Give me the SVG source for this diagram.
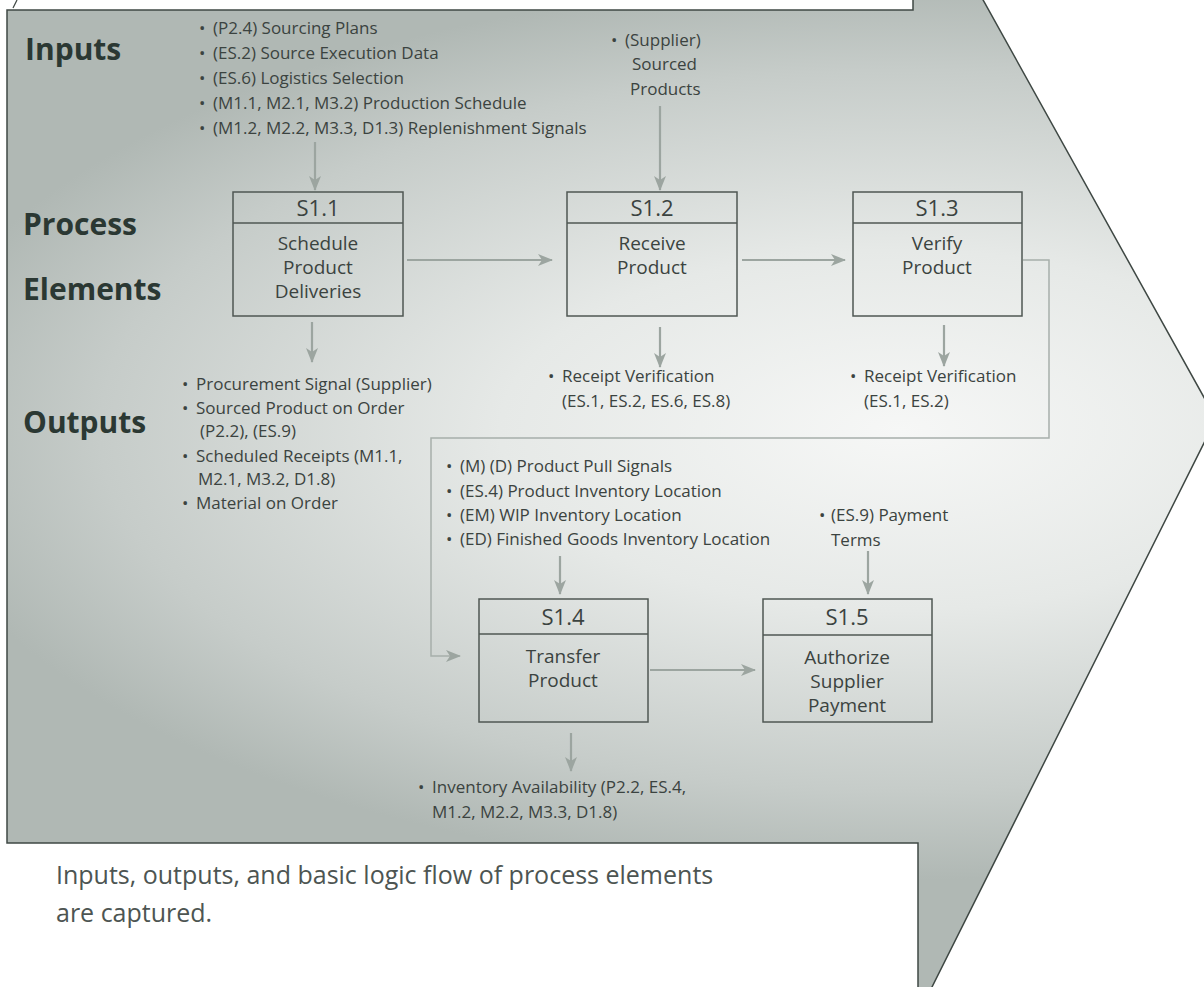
<svg xmlns="http://www.w3.org/2000/svg" width="1204" height="987" viewBox="0 0 1204 987">
  <style>
    .lbl { font-family: "Open Sans", "Liberation Sans", sans-serif; font-weight: 700; font-size: 30px; fill: #2b3833; }
    .txt { font-family: "Open Sans", "Liberation Sans", sans-serif; font-size: 17px; fill: #3b4340; }
    .hd { font-family: "Open Sans", "Liberation Sans", sans-serif; font-size: 22px; fill: #3b4340; text-anchor: middle; }
    .bt { font-family: "Open Sans", "Liberation Sans", sans-serif; font-size: 19px; fill: #3b4340; text-anchor: middle; }
    .cap { font-family: "Open Sans", "Liberation Sans", sans-serif; font-size: 25px; fill: #4d5552; }
    .box { fill: none; stroke: #4f5753; stroke-width: 1.5; }
    .arr { fill: none; stroke: #9ca5a0; stroke-width: 2.2; marker-end: url(#ah); }
    .loop { fill: none; stroke: #a7afab; stroke-width: 1.5; marker-end: url(#ah); }
  </style>
  <defs>
    <radialGradient id="bg" gradientUnits="userSpaceOnUse" cx="900" cy="430" r="1000"
        gradientTransform="translate(900 430) scale(1 0.45) translate(-900 -430)">
      <stop offset="0" stop-color="#f6f7f6"/>
      <stop offset="0.4" stop-color="#e6e9e7"/>
      <stop offset="0.8" stop-color="#c6ccc9"/>
      <stop offset="1" stop-color="#b0b8b4"/>
    </radialGradient>
    <marker id="ah" markerWidth="16" markerHeight="12" refX="14" refY="6" orient="auto" markerUnits="userSpaceOnUse">
      <path d="M0,0 L15,6 L0,12 L4,6 Z" fill="#9ca5a0"/>
    </marker>
  </defs>

  <rect width="1204" height="987" fill="#ffffff"/>

  <!-- chevron background -->
  <polygon points="7,10 913,10 913,-2 982,-2 1216,419 930,991 918,991 918,843 7,843"
           fill="url(#bg)" stroke="#3f4844" stroke-width="1.5"/>
  <line x1="13" y1="8" x2="17" y2="0" stroke="#3f4844" stroke-width="1.2"/>

  <!-- row labels -->
  <g id="row-labels">
    <text class="lbl" x="25" y="60">Inputs</text>
    <text class="lbl" x="23" y="235">Process</text>
    <text class="lbl" x="23" y="300">Elements</text>
    <text class="lbl" x="23" y="433">Outputs</text>
  </g>

  <!-- connectors -->
  <g id="connectors">
    <line class="arr" x1="315" y1="142" x2="315" y2="190"/>
    <line class="arr" x1="660" y1="106" x2="660" y2="190"/>
    <line class="arr" x1="407" y1="260" x2="552" y2="260"/>
    <line class="arr" x1="742" y1="260" x2="845" y2="260"/>
    <line class="arr" x1="312" y1="322" x2="312" y2="362"/>
    <line class="arr" x1="660" y1="327" x2="660" y2="367"/>
    <line class="arr" x1="944" y1="325" x2="944" y2="366"/>
    <path class="loop" d="M1023,260 H1049 V438 H431 V656 H460"/>
    <line class="arr" x1="560" y1="556" x2="560" y2="594"/>
    <line class="arr" x1="868" y1="551" x2="868" y2="594"/>
    <line class="arr" x1="650" y1="670" x2="755" y2="670"/>
    <line class="arr" x1="571" y1="733" x2="571" y2="771"/>
  </g>

  <!-- inputs -->
  <g id="inputs-s11">
    <text class="txt" x="199" y="34">•</text><text class="txt" x="213" y="34">(P2.4) Sourcing Plans</text>
    <text class="txt" x="199" y="59">•</text><text class="txt" x="213" y="59">(ES.2) Source Execution Data</text>
    <text class="txt" x="199" y="84">•</text><text class="txt" x="213" y="84">(ES.6) Logistics Selection</text>
    <text class="txt" x="199" y="109">•</text><text class="txt" x="213" y="109">(M1.1, M2.1, M3.2) Production Schedule</text>
    <text class="txt" x="199" y="134">•</text><text class="txt" x="213" y="134">(M1.2, M2.2, M3.3, D1.3) Replenishment Signals</text>
  </g>
  <g id="inputs-s12">
    <text class="txt" x="611" y="46">•</text><text class="txt" x="625" y="46">(Supplier)</text>
    <text class="txt" x="632" y="70">Sourced</text>
    <text class="txt" x="630" y="95">Products</text>
  </g>

  <!-- process elements -->
  <g id="s11">
    <rect class="box" x="233" y="192" width="170" height="124"/>
    <line class="box" x1="233" y1="223" x2="403" y2="223"/>
    <text class="hd" x="318" y="216">S1.1</text>
    <text class="bt" x="318" y="250">Schedule</text>
    <text class="bt" x="318" y="274">Product</text>
    <text class="bt" x="318" y="298">Deliveries</text>
  </g>
  <g id="s12">
    <rect class="box" x="567" y="192" width="170" height="124"/>
    <line class="box" x1="567" y1="223" x2="737" y2="223"/>
    <text class="hd" x="652" y="216">S1.2</text>
    <text class="bt" x="652" y="250">Receive</text>
    <text class="bt" x="652" y="274">Product</text>
  </g>
  <g id="s13">
    <rect class="box" x="853" y="192" width="169" height="124"/>
    <line class="box" x1="853" y1="223" x2="1022" y2="223"/>
    <text class="hd" x="937" y="216">S1.3</text>
    <text class="bt" x="937" y="250">Verify</text>
    <text class="bt" x="937" y="274">Product</text>
  </g>
  <g id="s14">
    <rect class="box" x="479" y="599" width="169" height="123"/>
    <line class="box" x1="479" y1="634" x2="648" y2="634"/>
    <text class="hd" x="563" y="625">S1.4</text>
    <text class="bt" x="563" y="663">Transfer</text>
    <text class="bt" x="563" y="687">Product</text>
  </g>
  <g id="s15">
    <rect class="box" x="763" y="599" width="169" height="123"/>
    <line class="box" x1="763" y1="635" x2="932" y2="635"/>
    <text class="hd" x="847" y="625">S1.5</text>
    <text class="bt" x="847" y="664">Authorize</text>
    <text class="bt" x="847" y="688">Supplier</text>
    <text class="bt" x="847" y="712">Payment</text>
  </g>

  <!-- outputs -->
  <g id="outputs-s11">
    <text class="txt" x="182" y="390">•</text><text class="txt" x="196" y="390">Procurement Signal (Supplier)</text>
    <text class="txt" x="182" y="414">•</text><text class="txt" x="196" y="414">Sourced Product on Order</text>
    <text class="txt" x="200" y="437">(P2.2), (ES.9)</text>
    <text class="txt" x="182" y="462">•</text><text class="txt" x="196" y="462">Scheduled Receipts (M1.1,</text>
    <text class="txt" x="198" y="485">M2.1, M3.2, D1.8)</text>
    <text class="txt" x="182" y="509">•</text><text class="txt" x="196" y="509">Material on Order</text>
  </g>
  <g id="outputs-s12">
    <text class="txt" x="548" y="382">•</text><text class="txt" x="562" y="382">Receipt Verification</text>
    <text class="txt" x="562" y="407">(ES.1, ES.2, ES.6, ES.8)</text>
  </g>
  <g id="outputs-s13">
    <text class="txt" x="850" y="382">•</text><text class="txt" x="864" y="382">Receipt Verification</text>
    <text class="txt" x="864" y="407">(ES.1, ES.2)</text>
  </g>
  <g id="inputs-s14">
    <text class="txt" x="446" y="472">•</text><text class="txt" x="460" y="472">(M) (D) Product Pull Signals</text>
    <text class="txt" x="446" y="497">•</text><text class="txt" x="460" y="497">(ES.4) Product Inventory Location</text>
    <text class="txt" x="446" y="521">•</text><text class="txt" x="460" y="521">(EM) WIP Inventory Location</text>
    <text class="txt" x="446" y="545">•</text><text class="txt" x="460" y="545">(ED) Finished Goods Inventory Location</text>
  </g>
  <g id="inputs-s15">
    <text class="txt" x="819" y="521">•</text><text class="txt" x="831" y="521">(ES.9) Payment</text>
    <text class="txt" x="831" y="546">Terms</text>
  </g>
  <g id="outputs-s14">
    <text class="txt" x="418" y="793">•</text><text class="txt" x="432" y="793">Inventory Availability (P2.2, ES.4,</text>
    <text class="txt" x="432" y="818">M1.2, M2.2, M3.3, D1.8)</text>
  </g>

  <!-- caption -->
  <g id="caption">
    <text class="cap" x="56" y="884">Inputs, outputs, and basic logic flow of process elements</text>
    <text class="cap" x="56" y="922">are captured.</text>
  </g>
</svg>
